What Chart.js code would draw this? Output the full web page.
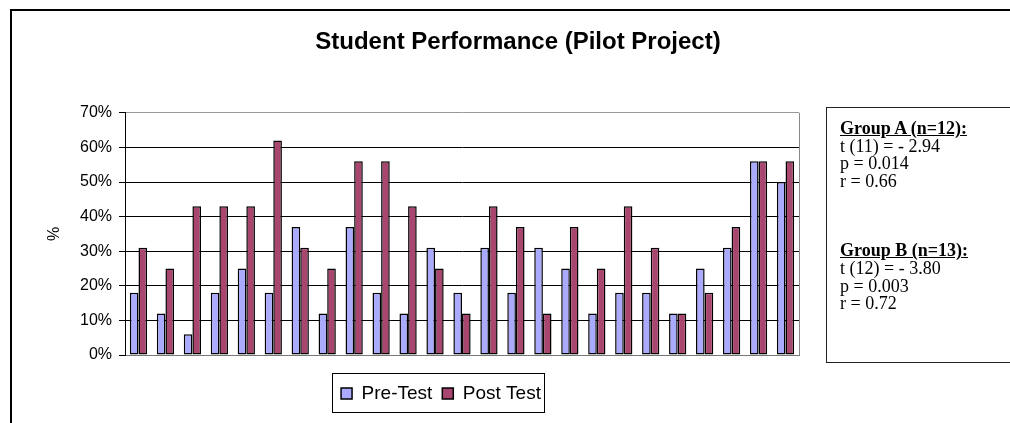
<!DOCTYPE html>
<html>
<head>
<meta charset="utf-8">
<title>Student Performance</title>
<script src="https://cdn.jsdelivr.net/npm/chart.js@4.4.1/dist/chart.umd.min.js"></script>
<style>
  body { margin: 0; background: #fff; }
  #frame {
    position: absolute; left: 10px; top: 9px; width: 1040px; height: 440px;
    border: 2px solid #000; box-sizing: border-box;
  }
  #chart { position: absolute; left: 0; top: 0; }
  #stats {
    position: absolute; left: 826px; top: 107px; width: 210px; height: 256px;
    border: 1.5px solid #222; box-sizing: border-box;
    font-family: "Liberation Serif", "Times New Roman", serif;
    font-size: 18px; line-height: 17.6px; color: #000;
    padding: 12px 0 0 13px;
  }
  #stats .hd { font-weight: bold; text-decoration: underline; }
  #stats .gap { height: 52px; }
</style>
</head>
<body>
<div id="frame"></div>
<canvas id="chart" width="1010" height="423"></canvas>
<div id="stats">
  <div class="hd">Group A (n=12):</div>
  <div>t (11) = - 2.94</div>
  <div>p = 0.014</div>
  <div>r = 0.66</div>
  <div class="gap"></div>
  <div class="hd">Group B (n=13):</div>
  <div>t (12) = - 3.80</div>
  <div>p = 0.003</div>
  <div>r = 0.72</div>
</div>
<script>
// one entry per student, A group first then B group
const students = ['1', '2', '3', '4', '5', '6', '7', '8', '9', '10', '11', '12', '13',
  '14', '15', '16', '17', '18', '19', '20', '21', '22', '23', '24', '25'];
const preTest = [18, 12, 6, 18, 25, 18, 37, 12, 37, 18, 12, 31, 18, 31, 18, 31, 25, 12, 18, 18, 12, 25, 31, 56, 50];
const postTest = [31, 25, 43, 43, 43, 62, 31, 25, 56, 56, 43, 25, 12, 43, 37, 12, 37, 25, 43, 31, 12, 18, 37, 56, 56];
const yTicks = [0, 10, 20, 30, 40, 50, 60, 70];

Chart.defaults.font.family = "'Liberation Sans', Arial, sans-serif";
Chart.defaults.color = '#000';

const LEGEND_SHIFT = -21;

// nudges the legend left and puts a box round it, plus the grey right edge of the plot
const frameBits = {
  id: 'frameBits',
  afterLayout(chart) {
    const lg = chart.legend;
    lg.left += LEGEND_SHIFT;
    lg.right += LEGEND_SHIFT;
    lg.legendHitBoxes.forEach(h => { h.left += LEGEND_SHIFT; });
  },
  afterDraw(chart) {
    const { ctx, chartArea, legend } = chart;
    ctx.save();
    ctx.strokeStyle = '#888';
    ctx.lineWidth = 1;
    ctx.beginPath();
    ctx.moveTo(Math.round(chartArea.right) + 0.5, chartArea.top);
    ctx.lineTo(Math.round(chartArea.right) + 0.5, chartArea.bottom);
    ctx.stroke();

    const boxes = legend.legendHitBoxes;
    const l = Math.min(...boxes.map(b => b.left)) - 9;
    const r = Math.max(...boxes.map(b => b.left + b.width)) + 3;
    ctx.strokeStyle = '#000';
    ctx.strokeRect(Math.round(l) + 0.5, Math.round(legend.top) - 0.5, Math.round(r - l), Math.round(legend.bottom - legend.top));
    ctx.restore();
  }
};

new Chart(document.getElementById('chart'), {
  type: 'bar',
  data: {
    labels: students,
    datasets: [{
      label: 'Pre-Test',
      data: preTest,
      backgroundColor: '#aaaaff',
      borderColor: '#000',
      borderWidth: 1.5,
      borderSkipped: false
    }, {
      label: 'Post Test',
      data: postTest,
      backgroundColor: '#a8466f',
      borderColor: '#000',
      borderWidth: 1.5,
      borderSkipped: false
    }]
  },
  options: {
    responsive: false,
    animation: false,
    categoryPercentage: 0.64,
    barPercentage: 1.0,
    layout: { padding: { left: 26, right: 0, top: 0, bottom: 10 } },
    plugins: {
      title: {
        display: true,
        text: 'Student Performance (Pilot Project)',
        font: { size: 24, weight: 'bold' },
        color: '#000',
        padding: { top: 28, bottom: 56 }
      },
      legend: {
        position: 'bottom',
        fullSize: false,
        labels: {
          font: { size: 19 },
          color: '#000',
          boxWidth: 11,
          boxHeight: 11,
          padding: 10
        }
      },
      tooltip: { enabled: false }
    },
    scales: {
      x: {
        ticks: { display: false },
        grid: { display: false },
        border: { color: '#777' },
        afterFit: s => { s.height = 19; }
      },
      y: {
        min: 0,
        max: 70,
        afterBuildTicks: s => { s.ticks = yTicks.map(v => ({ value: v })); },
        ticks: {
          callback: v => v + '%',
          font: { size: 16 },
          color: '#000',
          padding: 7
        },
        grid: {
          color: c => (c.tick && c.tick.value === 70 ? '#999' : '#000'),
          tickColor: '#000',
          tickLength: 6
        },
        border: { color: '#000' },
        title: {
          display: true,
          text: '%',
          font: { size: 16 },
          color: '#000',
          padding: { top: 19, bottom: 0 }
        },
        afterFit: s => { s.width = 99; }
      },
      side: {
        type: 'linear',
        position: 'right',
        ticks: { display: false },
        grid: { display: false },
        border: { display: false },
        afterFit: s => { s.width = 211; }
      }
    }
  },
  plugins: [frameBits]
});
</script>
</body>
</html>
